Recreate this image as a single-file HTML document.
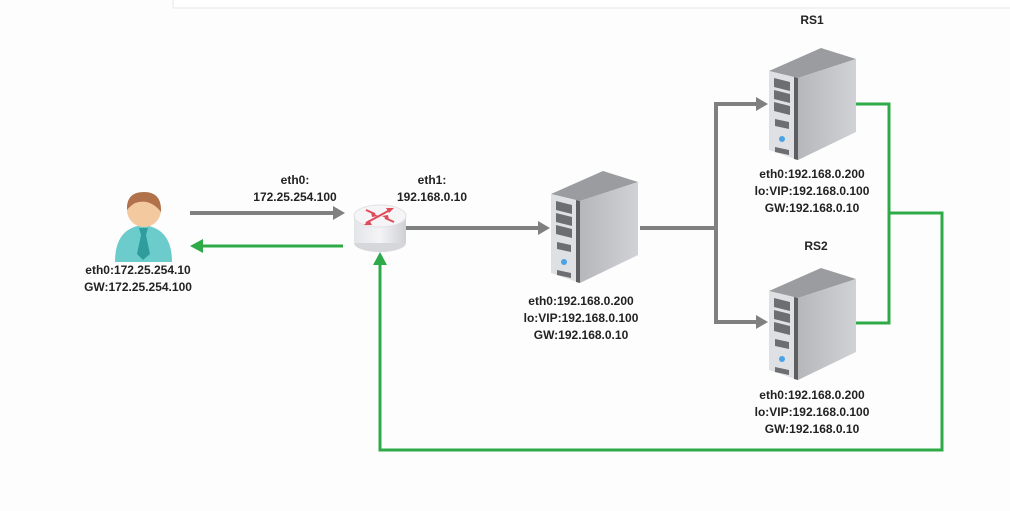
<!DOCTYPE html>
<html><head><meta charset="utf-8"><style>
body{margin:0;background:#fdfdfd;}
svg{display:block}
text{font-family:"Liberation Sans",sans-serif;font-weight:bold;font-size:12px;fill:#222;text-anchor:middle}
</style></head><body>
<svg width="1010" height="511" viewBox="0 0 1010 511">
<defs>
<linearGradient id="sf" x1="0" x2="1"><stop offset="0" stop-color="#b5b7ba"/><stop offset="1" stop-color="#d0d2d5"/></linearGradient>
<linearGradient id="cyl" x1="0" x2="1"><stop offset="0" stop-color="#e4e5e8"/><stop offset="0.5" stop-color="#f4f4f6"/><stop offset="1" stop-color="#cfd0d4"/></linearGradient>
<g id="srv">
<polygon points="53,1 1,24 30,31 88,12" fill="#9a9ca0"/>
<polygon points="30,31 88,12 88,85 30,113" fill="url(#sf)"/>
<polygon points="1,24 30,31 30,113 1,103" fill="#dfe0e3"/>
<polygon points="26,30 30,31 30,113 26,112" fill="#5c5e62"/>
<polygon points="6,31 22,35 22,44 6,40" fill="#6c6e72"/>
<polygon points="6,43 22,47 22,56 6,52" fill="#6c6e72"/>
<polygon points="6,55 22,59 22,68 6,64" fill="#6c6e72"/>
<polygon points="7,72 21,75 21,82 7,79" fill="#6c6e72"/>
<circle cx="14" cy="92" r="3" fill="#4aa3e6"/>
<polygon points="7,100 21,103 21,108 7,105" fill="#6c6e72"/>
</g>
</defs>
<rect x="173" y="-5" width="840" height="13" fill="#fff" stroke="#e6e6e6"/>
<g stroke="#808080" stroke-width="4" fill="none">
<line x1="190" y1="213" x2="335" y2="213"/>
<line x1="405" y1="228" x2="540" y2="228"/>
<line x1="640" y1="228" x2="716" y2="228"/>
<polyline points="757,104 716,104 716,322 757,322"/>
</g>
<g fill="#808080">
<polygon points="345,213 333,206 333,220"/>
<polygon points="550,228 538,221 538,235"/>
<polygon points="768,104 756,97 756,111"/>
<polygon points="768,322 756,315 756,329"/>
</g>
<g stroke="#2eaa48" stroke-width="3" fill="none">
<line x1="343" y1="246" x2="202" y2="246"/>
<polyline points="856,104 889,104 889,323 856,323"/>
<polyline points="889,213 942,213 942,450 380,450 380,264"/>
</g>
<g fill="#2eaa48">
<polygon points="190,246 203,239 203,253"/>
<polygon points="380,252 373,265 387,265"/>
</g>
<path d="M115,262 Q115,228 143,225 Q172,228 172,262 Z" fill="#6ccccc"/>
<polygon points="139,228 148,228 146,235 150,254 143,260 137,254 141,235" fill="#2f9d9d"/>
<circle cx="144" cy="210" r="17" fill="#f3c9a0"/>
<path d="M127,210 Q126,192 144,192 Q162,192 161,212 Q150,198 135,203 Q130,206 127,210 Z" fill="#b1714a"/>
<ellipse cx="380" cy="243" rx="26" ry="9" fill="#d6d7da"/>
<rect x="354" y="216" width="52" height="27" fill="url(#cyl)"/>
<ellipse cx="380" cy="216" rx="26" ry="11" fill="#f5f5f7" stroke="#e0e0e3"/>
<g stroke="#e04a5a" stroke-width="2" fill="none">
<line x1="366" y1="223" x2="390" y2="210"/>
<line x1="366" y1="210" x2="375" y2="214"/>
<line x1="385" y1="218" x2="394" y2="222"/>
</g>
<g fill="#e04a5a">
<polygon points="394,208 386,208 389,213"/>
<polygon points="364,225 372,225 369,220"/>
<polygon points="378,216 371,212 372,217"/>
<polygon points="382,216 389,220 388,215"/>
</g>
<use href="#srv" x="550" y="170"/>
<use href="#srv" x="768" y="47"/>
<use href="#srv" x="768" y="267"/>
<text x="295" y="184">eth0:</text>
<text x="295" y="201">172.25.254.100</text>
<text x="432" y="184">eth1:</text>
<text x="432" y="201">192.168.0.10</text>
<text x="138" y="274">eth0:172.25.254.10</text>
<text x="138" y="291">GW:172.25.254.100</text>
<text x="581" y="305">eth0:192.168.0.200</text>
<text x="581" y="322">lo:VIP:192.168.0.100</text>
<text x="581" y="339">GW:192.168.0.10</text>
<text x="812" y="24">RS1</text>
<text x="812" y="178">eth0:192.168.0.200</text>
<text x="812" y="195">lo:VIP:192.168.0.100</text>
<text x="812" y="212">GW:192.168.0.10</text>
<text x="816" y="250">RS2</text>
<text x="812" y="399">eth0:192.168.0.200</text>
<text x="812" y="416">lo:VIP:192.168.0.100</text>
<text x="812" y="433">GW:192.168.0.10</text>
</svg>
</body></html>
